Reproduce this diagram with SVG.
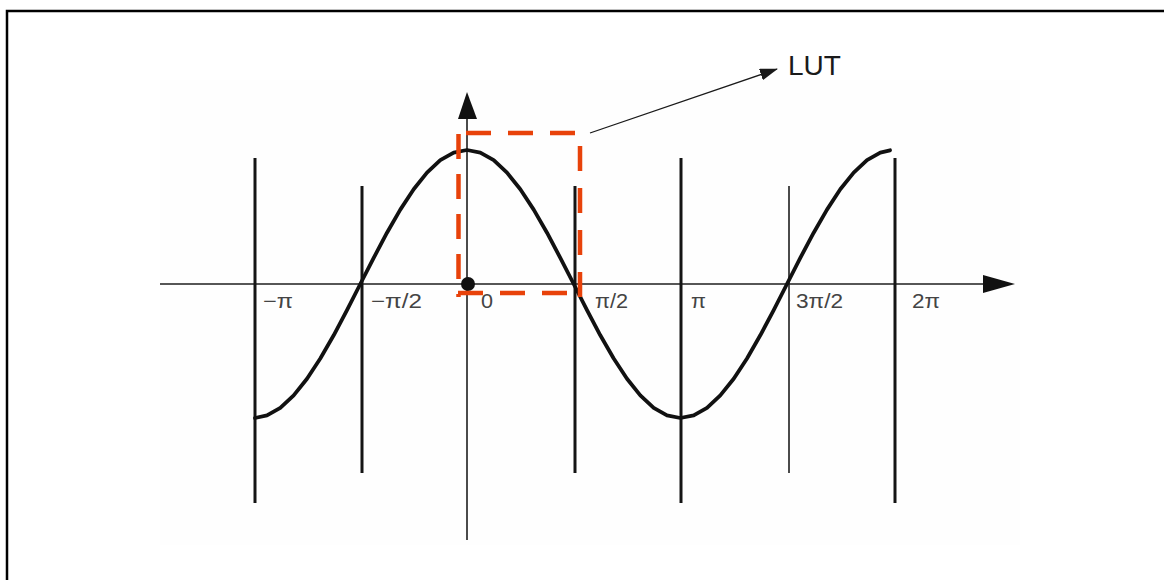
<svg xmlns="http://www.w3.org/2000/svg" width="1164" height="580" viewBox="0 0 1164 580">
  <style>
    .thick { stroke: #141414; stroke-width: 3; fill: none; }
    .thin { stroke: #1e1e1e; stroke-width: 1.6; fill: none; }
    .curve { stroke: #111; stroke-width: 3.8; fill: none; stroke-linejoin: round; stroke-linecap: round; }
    .dash { stroke: #e8420a; stroke-width: 4.5; fill: none; stroke-dasharray: 25 17; }
    .lbl { font-family: "Liberation Sans", Arial, sans-serif; font-size: 20px; fill: #444; }
    .lut { font-family: "Liberation Sans", Arial, sans-serif; font-size: 28px; fill: #1a1a1a; }
  </style>
  <defs>
    <marker id="ah" markerWidth="18" markerHeight="12" refX="17" refY="6" orient="auto" markerUnits="userSpaceOnUse">
      <polygon points="0,0 18,6 0,12" fill="#1a1a1a"/>
    </marker>
  </defs>
  <rect width="1164" height="580" fill="#ffffff"/>
  <rect x="160" y="80" width="860" height="465" fill="#fefefe"/>
  <path d="M7,580 V11 H1164" stroke="#000" stroke-width="2.5" fill="none"/>

  <g id="axes">
    <line class="thin" x1="160" y1="284" x2="986" y2="284"/>
    <polygon points="1015,284 983,275 983,293" fill="#111"/>
    <line class="thin" x1="467" y1="116" x2="467" y2="540"/>
    <polygon points="467,92 458,119 477,119" fill="#111"/>
    <circle cx="468" cy="284" r="7" fill="#111"/>
  </g>

  <g id="gridlines">
    <line class="thick" x1="255" y1="158" x2="255" y2="503"/>
    <line class="thick" x1="362" y1="186" x2="362" y2="473"/>
    <line class="thick" x1="575" y1="186" x2="575" y2="473"/>
    <line class="thick" x1="681" y1="158" x2="681" y2="503"/>
    <line class="thin" x1="789" y1="186" x2="789" y2="473"/>
    <line class="thick" x1="895" y1="158" x2="895" y2="503"/>
  </g>

  <g id="cosine">
    <polyline class="curve" points="255,418 267.0,415.4 280.3,407.8 293.7,395.4 307.0,378.8 320.3,358.5 333.7,335.3 347.0,310.1 360.3,284 373.7,257.9 387.0,232.7 400.3,209.6 413.7,189.3 427.0,172.6 440.3,160.2 453.7,152.6 467,150 480.3,152.6 493.7,160.2 507.0,172.6 520.3,189.3 533.7,209.6 547.0,232.7 560.3,257.9 573.7,284 587.0,310.1 600.3,335.3 613.7,358.5 627.0,378.8 640.3,395.4 653.7,407.8 667.0,415.4 680.3,418 693.7,415.4 707.0,407.8 720.3,395.4 733.7,378.8 747.0,358.5 760.3,335.3 773.7,310.1 787.0,284 800.3,257.9 813.7,232.7 827.0,209.6 840.3,189.3 853.7,172.6 867.0,160.2 880.3,152.6 890,150.3"/>
  </g>

  <g id="labels">
    <text class="lbl" x="263" y="308" textLength="30" lengthAdjust="spacingAndGlyphs">−π</text>
    <text class="lbl" x="371" y="308" textLength="51" lengthAdjust="spacingAndGlyphs">−π/2</text>
    <text class="lbl" x="481" y="308" textLength="12" lengthAdjust="spacingAndGlyphs">0</text>
    <text class="lbl" x="595" y="308" textLength="33" lengthAdjust="spacingAndGlyphs">π/2</text>
    <text class="lbl" x="691" y="308" textLength="15" lengthAdjust="spacingAndGlyphs">π</text>
    <text class="lbl" x="796" y="308" textLength="47" lengthAdjust="spacingAndGlyphs">3π/2</text>
    <text class="lbl" x="912" y="308" textLength="28" lengthAdjust="spacingAndGlyphs">2π</text>
  </g>

  <g id="lut-box">
    <line class="dash" x1="466" y1="133" x2="580" y2="133"/>
    <line class="dash" x1="580" y1="146" x2="580" y2="297"/>
    <line class="dash" x1="458" y1="293" x2="580" y2="293"/>
    <line class="dash" x1="458.5" y1="134" x2="458.5" y2="297" style="stroke-dasharray:25 15"/>
  </g>

  <g id="connectors">
    <line x1="590" y1="133" x2="777" y2="69" stroke="#1a1a1a" stroke-width="1.3" marker-end="url(#ah)"/>
  </g>

  <g id="lut-label">
    <text class="lut" x="788" y="75">LUT</text>
  </g>
</svg>
